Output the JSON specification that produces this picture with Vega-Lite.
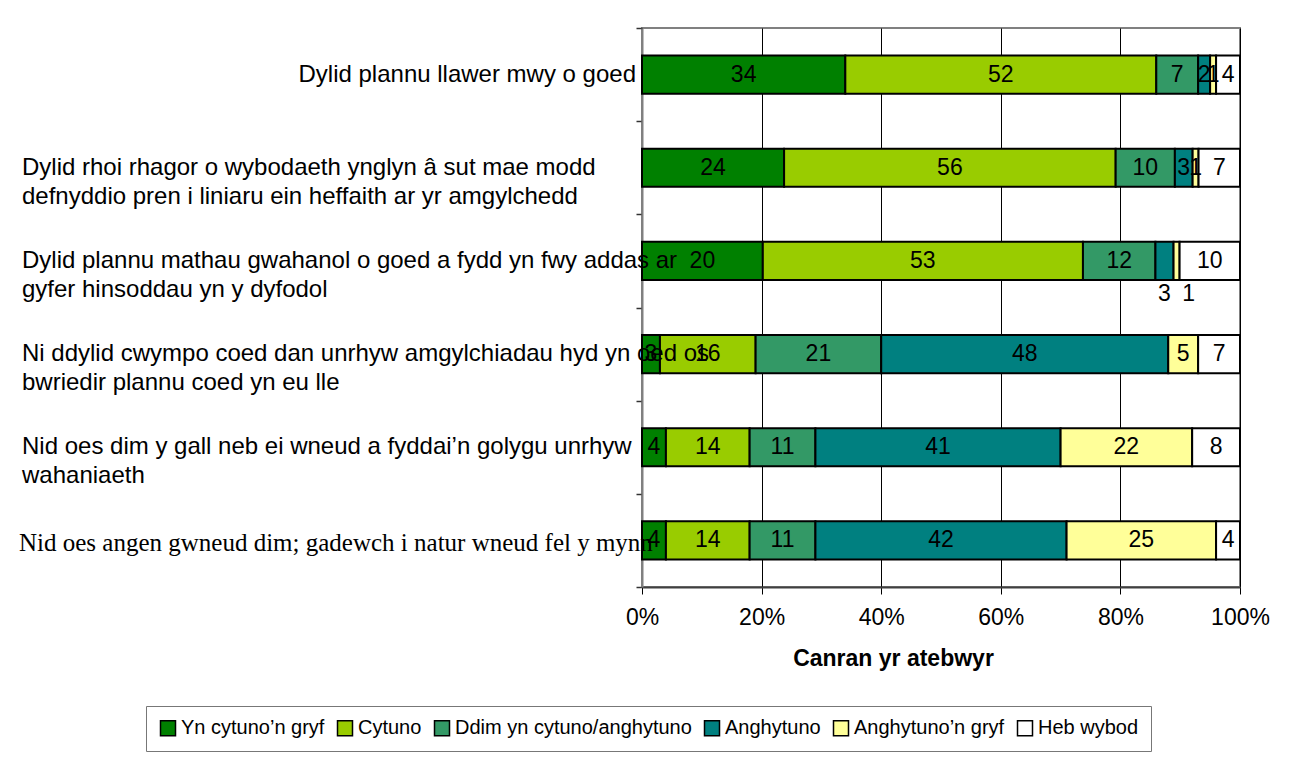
{
  "$schema": "https://vega.github.io/schema/vega-lite/v6.json",
  "width": 598,
  "height": 559,
  "autosize": {"type": "none"},
  "padding": {"left": 642, "top": 28, "right": 67, "bottom": 175},
  "background": "white",
  "config": {
    "font": "Liberation Sans",
    "view": {"stroke": "#808080", "strokeWidth": 2}
  },
  "data": {
    "values": [
      {"q": "Dylid plannu llawer mwy o goed", "cat": "Yn cytuno’n gryf", "o": 1, "v": 34},
      {"q": "Dylid plannu llawer mwy o goed", "cat": "Cytuno", "o": 2, "v": 52},
      {"q": "Dylid plannu llawer mwy o goed", "cat": "Ddim yn cytuno/anghytuno", "o": 3, "v": 7},
      {"q": "Dylid plannu llawer mwy o goed", "cat": "Anghytuno", "o": 4, "v": 2},
      {"q": "Dylid plannu llawer mwy o goed", "cat": "Anghytuno’n gryf", "o": 5, "v": 1},
      {"q": "Dylid plannu llawer mwy o goed", "cat": "Heb wybod", "o": 6, "v": 4},
      {"q": "Dylid rhoi rhagor o wybodaeth ynglyn â sut mae modd|defnyddio pren i liniaru ein heffaith ar yr amgylchedd", "cat": "Yn cytuno’n gryf", "o": 1, "v": 24},
      {"q": "Dylid rhoi rhagor o wybodaeth ynglyn â sut mae modd|defnyddio pren i liniaru ein heffaith ar yr amgylchedd", "cat": "Cytuno", "o": 2, "v": 56},
      {"q": "Dylid rhoi rhagor o wybodaeth ynglyn â sut mae modd|defnyddio pren i liniaru ein heffaith ar yr amgylchedd", "cat": "Ddim yn cytuno/anghytuno", "o": 3, "v": 10},
      {"q": "Dylid rhoi rhagor o wybodaeth ynglyn â sut mae modd|defnyddio pren i liniaru ein heffaith ar yr amgylchedd", "cat": "Anghytuno", "o": 4, "v": 3},
      {"q": "Dylid rhoi rhagor o wybodaeth ynglyn â sut mae modd|defnyddio pren i liniaru ein heffaith ar yr amgylchedd", "cat": "Anghytuno’n gryf", "o": 5, "v": 1},
      {"q": "Dylid rhoi rhagor o wybodaeth ynglyn â sut mae modd|defnyddio pren i liniaru ein heffaith ar yr amgylchedd", "cat": "Heb wybod", "o": 6, "v": 7},
      {"q": "Dylid plannu mathau gwahanol o goed a fydd yn fwy addas ar|gyfer hinsoddau yn y dyfodol", "cat": "Yn cytuno’n gryf", "o": 1, "v": 20},
      {"q": "Dylid plannu mathau gwahanol o goed a fydd yn fwy addas ar|gyfer hinsoddau yn y dyfodol", "cat": "Cytuno", "o": 2, "v": 53},
      {"q": "Dylid plannu mathau gwahanol o goed a fydd yn fwy addas ar|gyfer hinsoddau yn y dyfodol", "cat": "Ddim yn cytuno/anghytuno", "o": 3, "v": 12},
      {"q": "Dylid plannu mathau gwahanol o goed a fydd yn fwy addas ar|gyfer hinsoddau yn y dyfodol", "cat": "Anghytuno", "o": 4, "v": 3},
      {"q": "Dylid plannu mathau gwahanol o goed a fydd yn fwy addas ar|gyfer hinsoddau yn y dyfodol", "cat": "Anghytuno’n gryf", "o": 5, "v": 1},
      {"q": "Dylid plannu mathau gwahanol o goed a fydd yn fwy addas ar|gyfer hinsoddau yn y dyfodol", "cat": "Heb wybod", "o": 6, "v": 10},
      {"q": "Ni ddylid cwympo coed dan unrhyw amgylchiadau hyd yn oed os|bwriedir plannu coed yn eu lle", "cat": "Yn cytuno’n gryf", "o": 1, "v": 3},
      {"q": "Ni ddylid cwympo coed dan unrhyw amgylchiadau hyd yn oed os|bwriedir plannu coed yn eu lle", "cat": "Cytuno", "o": 2, "v": 16},
      {"q": "Ni ddylid cwympo coed dan unrhyw amgylchiadau hyd yn oed os|bwriedir plannu coed yn eu lle", "cat": "Ddim yn cytuno/anghytuno", "o": 3, "v": 21},
      {"q": "Ni ddylid cwympo coed dan unrhyw amgylchiadau hyd yn oed os|bwriedir plannu coed yn eu lle", "cat": "Anghytuno", "o": 4, "v": 48},
      {"q": "Ni ddylid cwympo coed dan unrhyw amgylchiadau hyd yn oed os|bwriedir plannu coed yn eu lle", "cat": "Anghytuno’n gryf", "o": 5, "v": 5},
      {"q": "Ni ddylid cwympo coed dan unrhyw amgylchiadau hyd yn oed os|bwriedir plannu coed yn eu lle", "cat": "Heb wybod", "o": 6, "v": 7},
      {"q": "Nid oes dim y gall neb ei wneud a fyddai’n golygu unrhyw|wahaniaeth", "cat": "Yn cytuno’n gryf", "o": 1, "v": 4},
      {"q": "Nid oes dim y gall neb ei wneud a fyddai’n golygu unrhyw|wahaniaeth", "cat": "Cytuno", "o": 2, "v": 14},
      {"q": "Nid oes dim y gall neb ei wneud a fyddai’n golygu unrhyw|wahaniaeth", "cat": "Ddim yn cytuno/anghytuno", "o": 3, "v": 11},
      {"q": "Nid oes dim y gall neb ei wneud a fyddai’n golygu unrhyw|wahaniaeth", "cat": "Anghytuno", "o": 4, "v": 41},
      {"q": "Nid oes dim y gall neb ei wneud a fyddai’n golygu unrhyw|wahaniaeth", "cat": "Anghytuno’n gryf", "o": 5, "v": 22},
      {"q": "Nid oes dim y gall neb ei wneud a fyddai’n golygu unrhyw|wahaniaeth", "cat": "Heb wybod", "o": 6, "v": 8},
      {"q": "Nid oes angen gwneud dim; gadewch i natur wneud fel y mynn", "cat": "Yn cytuno’n gryf", "o": 1, "v": 4},
      {"q": "Nid oes angen gwneud dim; gadewch i natur wneud fel y mynn", "cat": "Cytuno", "o": 2, "v": 14},
      {"q": "Nid oes angen gwneud dim; gadewch i natur wneud fel y mynn", "cat": "Ddim yn cytuno/anghytuno", "o": 3, "v": 11},
      {"q": "Nid oes angen gwneud dim; gadewch i natur wneud fel y mynn", "cat": "Anghytuno", "o": 4, "v": 42},
      {"q": "Nid oes angen gwneud dim; gadewch i natur wneud fel y mynn", "cat": "Anghytuno’n gryf", "o": 5, "v": 25},
      {"q": "Nid oes angen gwneud dim; gadewch i natur wneud fel y mynn", "cat": "Heb wybod", "o": 6, "v": 4}
    ]
  },
  "transform": [
    {"stack": "v", "groupby": ["q"], "sort": [{"field": "o", "order": "ascending"}], "offset": "normalize", "as": ["v0", "v1"]},
    {"calculate": "(datum.v0 + datum.v1) / 2", "as": "mid"}
  ],
  "encoding": {
    "y": {
      "field": "q",
      "type": "nominal",
      "sort": null,
      "title": null,
      "scale": {"paddingInner": 0, "paddingOuter": 0},
      "axis": {
        "labels": false,
        "tickSize": 6,
        "tickBand": "extent",
        "tickColor": "#333333",
        "tickWidth": 1.5,
        "domainColor": "#808080",
        "domainWidth": 2
      }
    }
  },
  "layer": [
    {
      "mark": {"type": "bar", "stroke": "black", "strokeWidth": 2, "height": {"band": 0.41}},
      "encoding": {
        "x": {
          "field": "v0",
          "type": "quantitative",
          "scale": {"domain": [0, 1], "nice": false},
          "title": "Canran yr atebwyr",
          "axis": {
            "values": [0, 0.2, 0.4, 0.6, 0.8, 1],
            "format": ".0%",
            "labelFlush": false,
            "labelFontSize": 23,
            "labelColor": "black",
            "labelPadding": 12,
            "tickColor": "black",
            "tickSize": 7,
            "domainColor": "#404040",
            "domainWidth": 2,
            "grid": true,
            "gridColor": "black",
            "gridWidth": 1,
            "gridOpacity": 1,
            "titleFontSize": 23,
            "titleFontWeight": "bold",
            "titleColor": "black",
            "titlePadding": 18,
            "titleX": 251
          }
        },
        "x2": {"field": "v1"},
        "color": {
          "field": "cat",
          "type": "nominal",
          "scale": {
            "domain": ["Yn cytuno’n gryf", "Cytuno", "Ddim yn cytuno/anghytuno", "Anghytuno", "Anghytuno’n gryf", "Heb wybod"],
            "range": ["#008000", "#99CC00", "#339966", "#008080", "#FFFF99", "#FFFFFF"]
          },
          "legend": {
            "orient": "none",
            "legendX": -496,
            "legendY": 678,
            "direction": "horizontal",
            "title": null,
            "symbolType": "square",
            "symbolSize": 225,
            "symbolStrokeColor": "black",
            "symbolStrokeWidth": 1.5,
            "labelFontSize": 20,
            "labelColor": "black",
            "labelLimit": 400,
            "labelOffset": 3,
            "columnPadding": 9,
            "strokeColor": "#777777",
            "fillColor": "white",
            "padding": 12
          }
        }
      }
    },
    {
      "transform": [{"filter": "!(datum.q == 'Dylid plannu mathau gwahanol o goed a fydd yn fwy addas ar|gyfer hinsoddau yn y dyfodol' && (datum.o == 4 || datum.o == 5))"}],
      "mark": {"type": "text", "fontSize": 23, "color": "black", "font": "Liberation Sans"},
      "encoding": {
        "x": {"field": "mid", "type": "quantitative"},
        "text": {"field": "v", "type": "quantitative"}
      }
    },
    {
      "transform": [{"filter": "datum.q == 'Dylid plannu mathau gwahanol o goed a fydd yn fwy addas ar|gyfer hinsoddau yn y dyfodol' && datum.o == 4"}],
      "mark": {"type": "text", "fontSize": 23, "color": "black", "font": "Liberation Sans", "dy": 33},
      "encoding": {
        "x": {"field": "mid", "type": "quantitative"},
        "text": {"field": "v", "type": "quantitative"}
      }
    },
    {
      "transform": [{"filter": "datum.q == 'Dylid plannu mathau gwahanol o goed a fydd yn fwy addas ar|gyfer hinsoddau yn y dyfodol' && datum.o == 5"}],
      "mark": {"type": "text", "fontSize": 23, "color": "black", "font": "Liberation Sans", "dy": 33, "dx": 12},
      "encoding": {
        "x": {"field": "mid", "type": "quantitative"},
        "text": {"field": "v", "type": "quantitative"}
      }
    },
    {
      "transform": [{"filter": "datum.o == 1 && datum.q == 'Dylid plannu llawer mwy o goed'"}],
      "mark": {"type": "text", "align": "right", "baseline": "middle", "dx": -6, "fontSize": 24, "color": "black", "font": "Liberation Sans"},
      "encoding": {
        "x": {"datum": 0, "type": "quantitative"},
        "text": {"field": "q"}
      }
    },
    {
      "transform": [{"filter": "datum.o == 1 && datum.q != 'Dylid plannu llawer mwy o goed' && datum.q != 'Nid oes angen gwneud dim; gadewch i natur wneud fel y mynn'"}],
      "mark": {"type": "text", "align": "left", "baseline": "middle", "dx": -620, "fontSize": 24, "lineHeight": 29, "lineBreak": "|", "color": "black", "font": "Liberation Sans"},
      "encoding": {
        "x": {"datum": 0, "type": "quantitative"},
        "text": {"field": "q"}
      }
    },
    {
      "transform": [{"filter": "datum.o == 1 && datum.q == 'Nid oes angen gwneud dim; gadewch i natur wneud fel y mynn'"}],
      "mark": {"type": "text", "align": "left", "baseline": "middle", "dx": -623, "dy": 3, "fontSize": 25, "color": "black", "font": "Liberation Serif"},
      "encoding": {
        "x": {"datum": 0, "type": "quantitative"},
        "text": {"field": "q"}
      }
    }
  ]
}
